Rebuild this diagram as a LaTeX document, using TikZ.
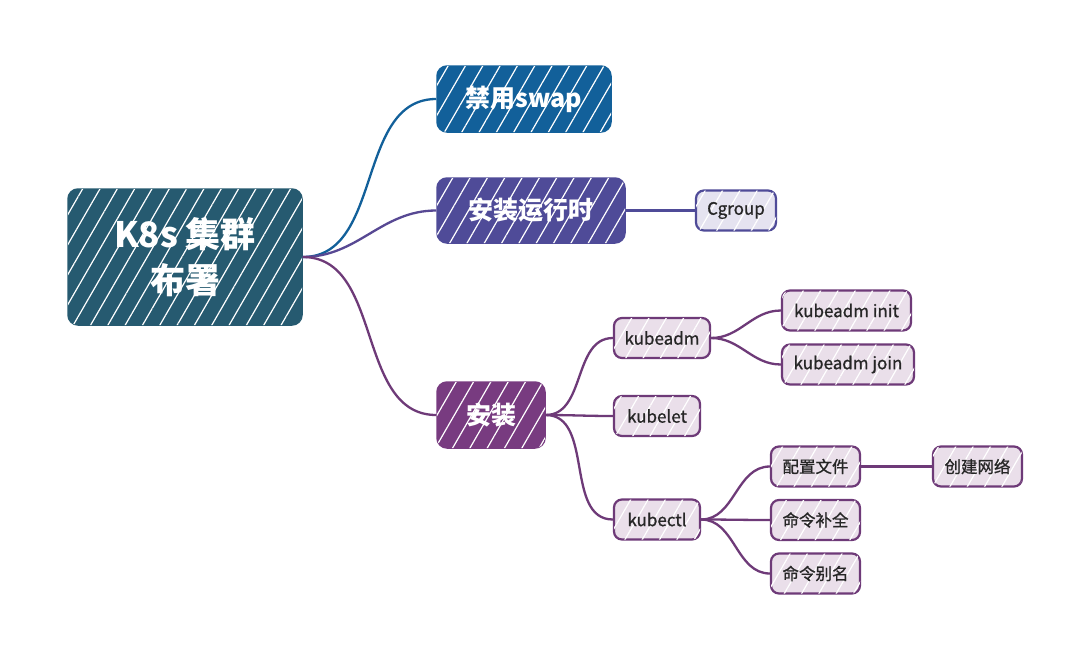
\documentclass[tikz,border=0pt]{standalone}
\usepackage{fontspec}
\newfontfamily\cjk{Noto Sans CJK SC}
\newfontfamily\cjkm[FakeBold=1]{Noto Sans CJK SC}
\usetikzlibrary{patterns.meta}
\definecolor{rootcol}{HTML}{265A70}
\definecolor{swapcol}{HTML}{12609A}
\definecolor{rtcol}{HTML}{4F4B98}
\definecolor{instcol}{HTML}{783B80}
\definecolor{rtlite}{HTML}{E5E3F0}
\definecolor{instlite}{HTML}{EADFEA}
\definecolor{inklite}{HTML}{6E3A78}
\definecolor{txt}{HTML}{262626}
\begin{document}
\begin{tikzpicture}[x=1pt, y=-1pt,
    every node/.style={font=\cjk},
    hatch/.style={postaction={fill opacity=#1, pattern={Lines[angle=60,distance=15pt,line width=1.2pt]}, pattern color=white}},
    topic/.style={draw=#1, fill=#1, line width=1.5pt, rounded corners=10pt, text=white, inner sep=0pt, hatch=0.6},
    leaf/.style={draw=#1, line width=2.2pt, rounded corners=8pt, text=txt, inner sep=0pt, minimum height=40pt, hatch=0.45},
    link/.style={line width=2.3pt, draw=#1}]
\useasboundingbox[fill=white] (0,0) rectangle (1090,662);
% --- centro ---
\node[topic=rootcol, minimum width=234pt, minimum height=136pt, align=center,
      font=\cjk\bfseries\fontsize{35}{46}\selectfont] (root) at (185,257) {K8s 集群\\布署};
% --- rami principali ---
\node[topic=swapcol, minimum width=174pt, minimum height=66pt, font=\cjk\bfseries\fontsize{25}{30}\selectfont] (swap) at (524,99) {禁用swap};
\node[topic=rtcol, minimum width=188pt, minimum height=65pt, font=\cjk\bfseries\fontsize{25}{30}\selectfont] (rt) at (531,210.5) {安装运行时};
\node[topic=instcol, minimum width=108pt, minimum height=66pt, font=\cjk\bfseries\fontsize{25}{30}\selectfont] (inst) at (491,415) {安装};
% --- foglie ---
\begin{scope}[every node/.append style={font=\cjkm\fontsize{17}{20}\selectfont}]
    \node[leaf=rtcol, fill=rtlite, minimum width=80pt] (cgroup) at (736,210.5) {Cgroup};
    \node[leaf=inklite, fill=instlite, minimum width=96pt] (kadm) at (662,338) {kubeadm};
    \node[leaf=inklite, fill=instlite, minimum width=129pt] (init) at (846.5,310.5) {kubeadm init};
    \node[leaf=inklite, fill=instlite, minimum width=132pt] (join) at (848,364.5) {kubeadm join};
    \node[leaf=inklite, fill=instlite, minimum width=86pt] (klet) at (657,416) {kubelet};
    \node[leaf=inklite, fill=instlite, minimum width=86pt] (kctl) at (657,519.5) {kubectl};
\end{scope}
\begin{scope}[every node/.append style={font=\cjkm\fontsize{16.5}{20}\selectfont}]
    \node[leaf=inklite, fill=instlite, minimum width=89pt] (cfg) at (815.5,466.5) {配置文件};
    \node[leaf=inklite, fill=instlite, minimum width=89pt] (net) at (977.5,466.5) {创建网络};
    \node[leaf=inklite, fill=instlite, minimum width=89pt] (comp) at (815.5,520) {命令补全};
    \node[leaf=inklite, fill=instlite, minimum width=89pt] (alias) at (815.5,573.5) {命令别名};
\end{scope}
% --- collegamenti ---
\draw[link=swapcol] (root.east) to[out=0, in=180] (swap.west);
\draw[link=rtcol!80!instcol] (root.east) to[out=0, in=180] (rt.west);
\draw[link=inklite] (root.east) to[out=0, in=180] (inst.west);
\draw[link=rtcol] (rt.east) -- (cgroup.west);
\foreach \t in {kadm,klet,kctl}
    \draw[link=inklite] (inst.east) to[out=0, in=180] (\t.west);
\foreach \t in {init,join}
    \draw[link=inklite] (kadm.east) to[out=0, in=180] (\t.west);
\foreach \t in {cfg,comp,alias}
    \draw[link=inklite] (kctl.east) to[out=0, in=180] (\t.west);
\draw[link=inklite] (cfg.east) -- (net.west);
\end{tikzpicture}
\end{document}
